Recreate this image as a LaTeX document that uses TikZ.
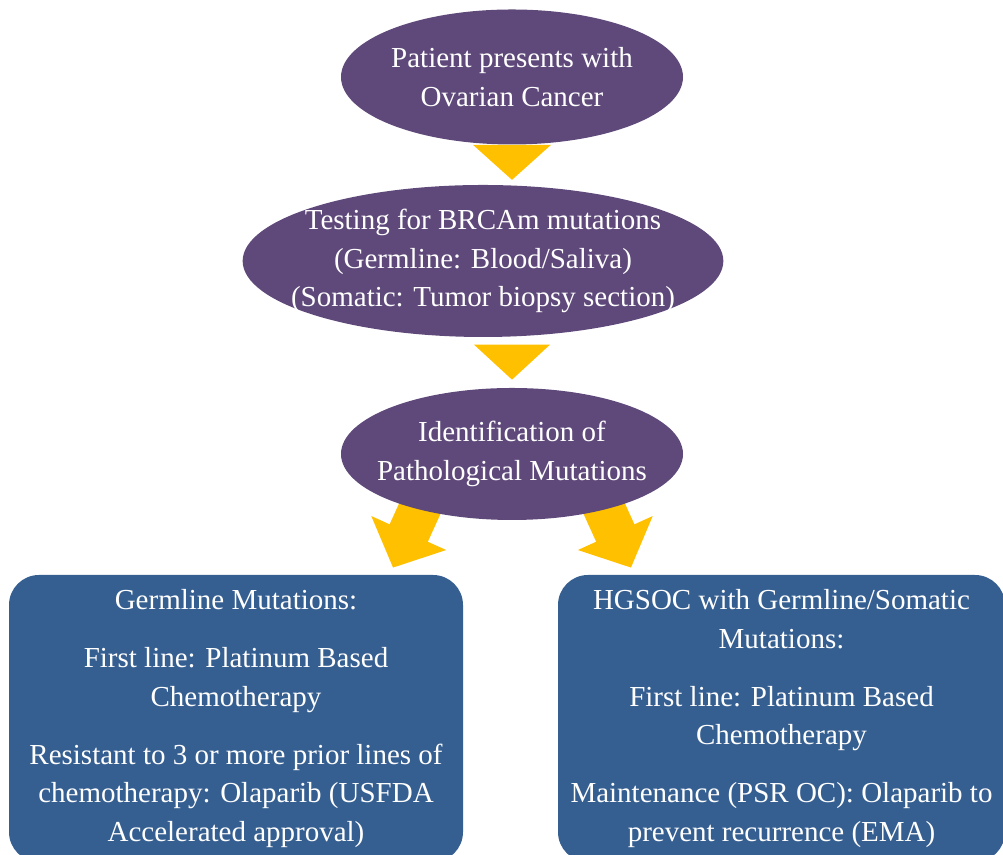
\documentclass[tikz,border=0pt]{standalone}
\usepackage{fontspec}
\setmainfont{Liberation Serif}
\usetikzlibrary{shapes.geometric, arrows.meta, calc, backgrounds}
\definecolor{ovalpurple}{HTML}{5F497A}
\definecolor{boxblue}{HTML}{365F91}
\definecolor{arrowgold}{HTML}{FFC000}

\begin{document}
\begin{tikzpicture}[
    oval/.style={ellipse, fill=ovalpurple, text=white, inner sep=0pt, align=center,
        font=\fontsize{16.5}{22}\selectfont},
    stage/.style={rectangle, rounded corners=0.6cm, fill=boxblue, text=white, inner sep=0pt,
        align=center, font=\fontsize{16.5}{22}\selectfont},
    bigarrow/.style={draw=arrowgold, line width=0.84cm, -{Triangle[width=1.6cm,length=0.76cm]}}
]
        \useasboundingbox (0,0) rectangle (20.06,17.1);
        % Ellipses
        \node[oval, minimum width=6.84cm, minimum height=2.7cm] (patient) at (10.24,15.56)
            {Patient presents with\\ Ovarian Cancer};
        \node[oval, inner xsep=-0.44cm, minimum width=9.56cm, minimum height=3.04cm] (testing) at (9.66,11.88)
            {Testing for BRCAm mutations\\ (Germline: Blood/Saliva)\\ (Somatic: Tumor biopsy section)};
        \node[oval, inner xsep=-0.28cm, minimum width=6.84cm, minimum height=2.64cm] (ident) at (10.24,8.02)
            {Identification of\\ Pathological Mutations};
        % Boxes
        \node[stage, minimum width=9.08cm, minimum height=5.74cm] (germ) at (4.72,2.73)
            {Germline Mutations:\\[11pt]
             First line: Platinum Based\\ Chemotherapy\\[11pt]
             Resistant to 3 or more prior lines of\\ chemotherapy: Olaparib (USFDA\\
             Accelerated approval)};
        \node[stage, minimum width=8.94cm, minimum height=5.74cm] (hgsoc) at (15.63,2.73)
            {HGSOC with Germline/Somatic\\ Mutations:\\[11pt]
             First line: Platinum Based\\ Chemotherapy\\[11pt]
             Maintenance (PSR OC): Olaparib to\\ prevent recurrence (EMA)};
        % Triangles between ellipses
        \fill[arrowgold] ($(patient.south)+(-0.78,0)$) -- ($(patient.south)+(0.78,0)$)
            -- ($(patient.south)+(0,-0.7)$) -- cycle;
        \fill[arrowgold] ($(ident.north)+(-0.76,0.86)$) -- ($(ident.north)+(0.76,0.86)$)
            -- ($(ident.north)+(0,0.16)$) -- cycle;
        % Arrows to boxes
        \coordinate (lstart) at ($(ident)+(-1.72,-0.82)$);
        \coordinate (lend) at ($(germ.north)+(3.14,0.14)$);
        \coordinate (rstart) at ($(ident)+(1.72,-0.82)$);
        \coordinate (rend) at ($(hgsoc.north)+(-3.01,0.14)$);
        \begin{scope}[on background layer]
            \draw[bigarrow] (lstart) -- (lend);
            \draw[bigarrow] (rstart) -- (rend);
        \end{scope}
    \end{tikzpicture}
\end{document}
